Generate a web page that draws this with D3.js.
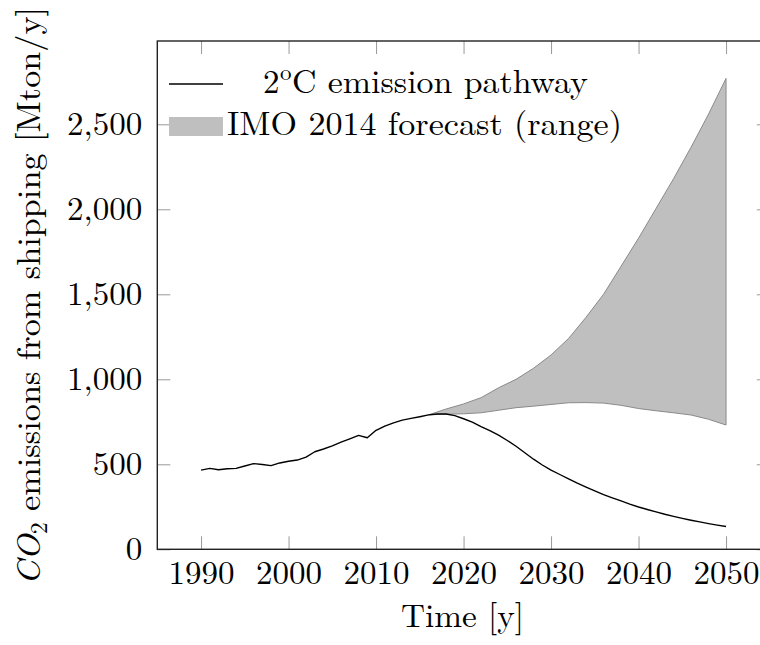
<!DOCTYPE html>
<html>
<head>
<meta charset="utf-8">
<script src="https://cdn.jsdelivr.net/npm/d3@7"></script>
<style>
  html, body { margin: 0; padding: 0; background: #fff; }
  svg { display: block; }
</style>
</head>
<body>
<svg id="chart" width="760" height="645"></svg>
<script>
// 2°C pathway, annual values (Mton CO2 / year)
const pathwayYears = d3.range(1990, 2051);
const pathwayValues = [
  466, 476, 468, 474, 476, 490, 504, 499, 492, 508,
  518, 525, 542, 574, 590, 608, 630, 650, 670, 656,
  700, 725, 744, 760, 770, 780, 791, 796, 796, 786,
  768, 748, 722, 698, 672, 640, 606, 568, 530, 496,
  466, 440, 414, 389, 366, 344, 322, 303, 285, 266,
  249, 234, 220, 206, 194, 182, 171, 161, 151, 142,
  134
];

// IMO 2014 forecast range
const forecastYears = [2016, 2018, 2020, 2022, 2024, 2026, 2028, 2030, 2032, 2034, 2036, 2038, 2040, 2042, 2044, 2046, 2048, 2050];
const forecastLow   = [791, 795, 797, 803, 818, 833, 842, 852, 862, 863, 860, 847, 828, 815, 803, 790, 765, 731];
const forecastHigh  = [791, 825, 855, 892, 950, 1000, 1065, 1143, 1240, 1365, 1500, 1665, 1830, 2005, 2180, 2365, 2560, 2770];

const xTicks = [1990, 2000, 2010, 2020, 2030, 2040, 2050];
const yTicks = [0, 500, 1000, 1500, 2000, 2500];

const legendLabels = ["2", "o", "C emission pathway", "IMO 2014 forecast (range)"];
const xTitle = "Time [y]";

const FAMILY = '"Latin Modern Roman", "CMU Serif", "Liberation Serif", serif';
const FONT = 33;
const plotLeft = 157.3, plotRight = 769.8, plotTop = 41, plotBottom = 549.3;

const svg = d3.select("#chart");

const x = d3.scaleLinear().domain([1985, 2055]).range([plotLeft, plotRight]);
const y = d3.scaleLinear().domain([0, 2990]).range([plotBottom, plotTop]);

// forecast band
const band = forecastYears.map((yr, i) => ({ yr, lo: forecastLow[i], hi: forecastHigh[i] }));
svg.append("path")
  .datum(band)
  .attr("fill", "#bfbfbf")
  .attr("stroke", "#8a8a8a")
  .attr("stroke-width", 1)
  .attr("d", d3.area().x(d => x(d.yr)).y0(d => y(d.lo)).y1(d => y(d.hi)));

// pathway line
const line = pathwayYears.map((yr, i) => ({ yr, v: pathwayValues[i] }));
svg.append("path")
  .datum(line)
  .attr("fill", "none")
  .attr("stroke", "#000")
  .attr("stroke-width", 1.4)
  .attr("stroke-linejoin", "round")
  .attr("d", d3.line().x(d => x(d.yr)).y(d => y(d.v)));

// axes (ticks pointing inward on all four sides)
function styleAxis(g) {
  g.select(".domain").remove();
  g.attr("font-family", null).attr("font-size", null);
  g.selectAll(".tick line").attr("stroke", "#999").attr("stroke-width", 1);
  g.selectAll(".tick text")
    .style("font-family", FAMILY)
    .style("font-size", FONT + "px")
    .attr("fill", "#000");
}
svg.append("g").attr("transform", `translate(0,${plotBottom})`)
  .call(d3.axisBottom(x).tickValues(xTicks).tickFormat(d3.format("d")).tickSize(-13).tickPadding(11))
  .call(styleAxis);
svg.append("g").attr("transform", `translate(0,${plotTop})`)
  .call(d3.axisTop(x).tickValues(xTicks).tickFormat("").tickSize(-13))
  .call(styleAxis);
svg.append("g").attr("transform", `translate(${plotLeft},0)`)
  .call(d3.axisLeft(y).tickValues(yTicks).tickFormat(d3.format(",")).tickSize(-13).tickPadding(15))
  .call(styleAxis);
svg.append("g").attr("transform", `translate(${plotRight},0)`)
  .call(d3.axisRight(y).tickValues(yTicks).tickFormat("").tickSize(-13))
  .call(styleAxis);

// frame
svg.append("rect")
  .attr("x", plotLeft).attr("y", plotTop)
  .attr("width", plotRight - plotLeft).attr("height", plotBottom - plotTop)
  .attr("fill", "none").attr("stroke", "#222").attr("stroke-width", 1.4);

function label(sel) {
  return sel.style("font-family", FAMILY).style("font-size", FONT + "px").attr("fill", "#000");
}

// legend
const lg = svg.append("g");
lg.append("line").attr("x1", 169).attr("x2", 223).attr("y1", 84).attr("y2", 84)
  .attr("stroke", "#000").attr("stroke-width", 1.4);
label(lg.append("text")).attr("x", 263).attr("y", 93).text(legendLabels[0]);
label(lg.append("text")).attr("x", 280).attr("y", 80).style("font-size", "23px").text(legendLabels[1]);
label(lg.append("text")).attr("x", 292).attr("y", 93)
  .attr("textLength", 296).attr("lengthAdjust", "spacingAndGlyphs")
  .text(legendLabels[2]);
lg.append("rect").attr("x", 169).attr("y", 117).attr("width", 54).attr("height", 19).attr("fill", "#bfbfbf");
label(lg.append("text")).attr("x", 227).attr("y", 135)
  .attr("textLength", 395).attr("lengthAdjust", "spacingAndGlyphs")
  .text(legendLabels[3]);

// axis titles
label(svg.append("text"))
  .attr("x", (plotLeft + plotRight) / 2 - 1).attr("y", 627)
  .attr("text-anchor", "middle")
  .attr("textLength", 123).attr("lengthAdjust", "spacingAndGlyphs")
  .text(xTitle);

const yt = label(svg.append("text"))
  .attr("transform", "translate(40,296) rotate(-90)")
  .attr("text-anchor", "middle")
  .attr("textLength", 578).attr("lengthAdjust", "spacingAndGlyphs");
yt.append("tspan").style("font-style", "italic").text("CO");
yt.append("tspan").attr("dy", 7).style("font-size", "23px").text("2");
yt.append("tspan").attr("dy", -7).text(" emissions from shipping [Mton/y]");
</script>
</body>
</html>
